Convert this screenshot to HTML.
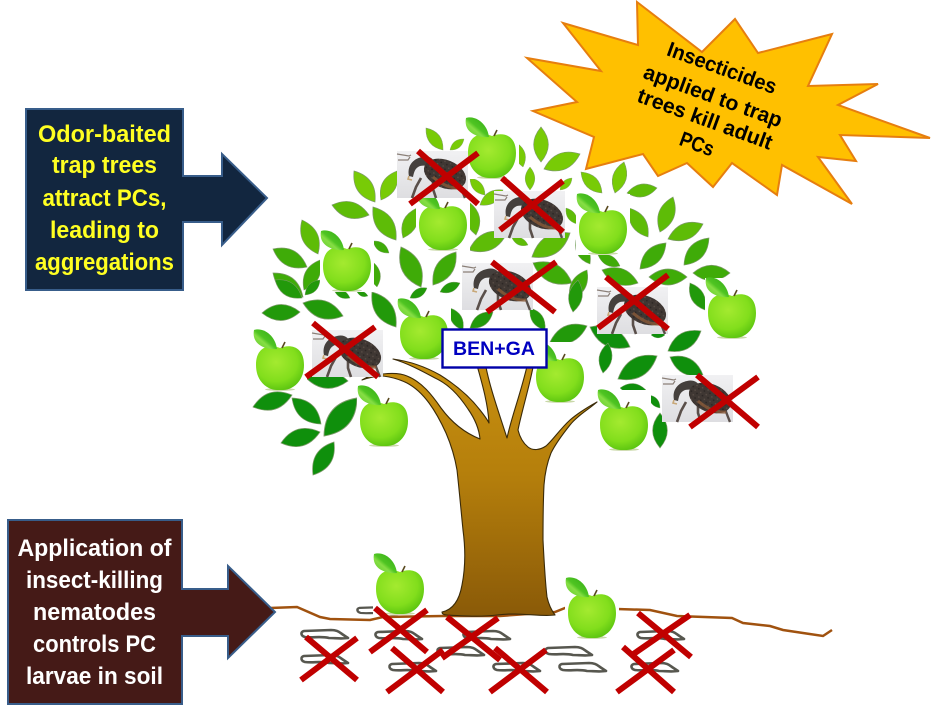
<!DOCTYPE html>
<html>
<head>
<meta charset="utf-8">
<style>
html,body{margin:0;padding:0;background:#fff;width:932px;height:708px;overflow:hidden}
svg{display:block}
text{font-family:"Liberation Sans",Arial,sans-serif;font-weight:bold;text-anchor:middle}
</style>
</head>
<body>
<svg width="932" height="708" viewBox="0 0 932 708" xmlns="http://www.w3.org/2000/svg">
<defs>
<g id="l"><path transform="scale(.01)" d="M0 0Q50 -42 100 0Q50 42 0 0Z" stroke="#7d9a6a" stroke-width="1.800"/></g>
<radialGradient id="ag" cx=".42" cy=".36" r=".74">
<stop offset="0" stop-color="#a4ea30"/><stop offset=".6" stop-color="#82de1c"/><stop offset="1" stop-color="#4fbc0c"/>
</radialGradient>
<linearGradient id="al" x1="1" y1="0" x2="0" y2="1">
<stop offset="0" stop-color="#2fa815"/><stop offset=".5" stop-color="#4fc422"/><stop offset=".62" stop-color="#86de44"/><stop offset="1" stop-color="#5cc92a"/>
</linearGradient>
<linearGradient id="tg" x1="0" y1="0" x2="0" y2="1">
<stop offset="0" stop-color="#c8900f"/><stop offset=".45" stop-color="#b57f0c"/><stop offset="1" stop-color="#8a5a08"/>
</linearGradient>
<linearGradient id="wg" x1="0" y1="0" x2="0" y2="1">
<stop offset="0" stop-color="#f1f1f3"/><stop offset="1" stop-color="#dedee1"/>
</linearGradient>
<pattern id="sp" width="6" height="5" patternUnits="userSpaceOnUse">
<rect width="6" height="5" fill="#3f3733"/>
<circle cx="1.300" cy="1.300" r=".8" fill="#5a4e47"/>
<circle cx="4.200" cy="3.600" r=".9" fill="#2c2624"/>
</pattern>
<g id="a">
<rect x="-27" y="-38" width="54" height="61" fill="#fff"/>
<ellipse cx="0" cy="21.500" rx="15" ry="1.400" fill="#c9d8a8"/>
<path d="M0 -20C10 -24 24 -22 24 -3C24 14 12 22 3 22C1 22 -1 22 -3 22C-12 22 -24 14 -24 -3C-24 -22 -10 -24 0 -20Z" fill="url(#ag)"/>
<path d="M-26 -38C-18 -41 -5 -34 -3 -19C-12 -18 -29 -22 -26 -38Z" fill="url(#al)"/>
<path d="M2 -20L5 -26" stroke="#5a4a20" stroke-width="1.600" fill="none"/>
</g>
<g id="w">
<rect width="71" height="47" fill="url(#wg)"/>
<path d="M0 3L12 5L14 4M1 9L11 9L13 6" stroke="#8b8078" stroke-width="1.200" fill="none"/>
<path d="M24 27L19 36L15 47" stroke="#5a4f4a" stroke-width="2.600" fill="none"/>
<path d="M36 27L36 38L39 47" stroke="#5a4f4a" stroke-width="2.600" fill="none"/>
<path d="M63 34L66 42L68 47" stroke="#5a4f4a" stroke-width="2.400" fill="none"/>
<path d="M12 25C10 16 15 8 25 6C32 4 38 8 38 14C33 15 27 14 23 15C18 17 17 21 16 26Z" fill="#45403d"/>
<ellipse cx="48" cy="23" rx="22" ry="14" transform="rotate(22 48 23)" fill="url(#sp)"/>
<path d="M36 26C44 33 54 38 64 37" stroke="#8a5a38" stroke-width="3" fill="none" opacity=".8"/>
<path d="M12 25L11 28L15 29" stroke="#c8a878" stroke-width="1.600" fill="none"/>
</g>
<path id="n" d="M3 1L30 0C36 0 38 2 41 4L47 8C40 9 34 8 28 8C20 6 12 8 4 7C0 6 -1 2 3 1Z" fill="#fff" stroke="#57574f" stroke-width="2.600" stroke-linejoin="round"/>
</defs>

<rect width="932" height="708" fill="#fff"/>

<!-- leaves -->
<g fill="#78cb06">
<use href="#l" transform="matrix(17 22 -22 17 426 128)"/>
<use href="#l" transform="matrix(14 -11 11 14 450 150)"/>
<use href="#l" transform="matrix(21 31 -31 21 354 171)"/>
<use href="#l" transform="matrix(16 -29 29 16 381 200)"/>
<use href="#l" transform="matrix(0 35 -35 0 541 127)"/>
<use href="#l" transform="matrix(36 -15 15 36 544 169)"/>
<use href="#l" transform="matrix(6 24 -24 6 517 143)"/>
<use href="#l" transform="matrix(0 23 -23 0 530 167)"/>
<use href="#l" transform="matrix(12 -12 12 12 560 190)"/>
<use href="#l" transform="matrix(21 21 -21 21 581 172)"/>
<use href="#l" transform="matrix(-9 31 -31 -9 624 162)"/>
<use href="#l" transform="matrix(15 17 -17 15 470 178)"/>
<use href="#l" transform="matrix(23 -15 15 23 480 205)"/>
</g>
<g fill="#5ebc07">
<use href="#l" transform="matrix(37 10 -10 37 332 205)"/>
<use href="#l" transform="matrix(23 33 -33 23 373 207)"/>
<use href="#l" transform="matrix(14 -30 30 14 403 238)"/>
<use href="#l" transform="matrix(16 34 -34 16 302 220)"/>
<use href="#l" transform="matrix(7 33 -33 7 469 202)"/>
<use href="#l" transform="matrix(30 -5 5 30 627 193)"/>
<use href="#l" transform="matrix(-13 35 -35 -13 673 197)"/>
<use href="#l" transform="matrix(19 29 -29 19 629 208)"/>
<use href="#l" transform="matrix(11 16 -16 11 566 208)"/>
<use href="#l" transform="matrix(-35 15 -15 -35 703 224)"/>
<use href="#l" transform="matrix(38 -17 17 38 469 250)"/>
<use href="#l" transform="matrix(-38 24 -24 -38 570 233)"/>
<use href="#l" transform="matrix(16 7 -7 16 512 238)"/>
</g>
<g fill="#3fab08">
<use href="#l" transform="matrix(34 18 -18 34 273 249)"/>
<use href="#l" transform="matrix(16 -30 30 16 304 290)"/>
<use href="#l" transform="matrix(30 24 -24 30 273 273)"/>
<use href="#l" transform="matrix(20 40 -40 20 401 247)"/>
<use href="#l" transform="matrix(23 -33 33 23 433 285)"/>
<use href="#l" transform="matrix(16 12 -12 16 373 241)"/>
<use href="#l" transform="matrix(4 25 -25 4 373 262)"/>
<use href="#l" transform="matrix(-26 26 -26 -26 666 243)"/>
<use href="#l" transform="matrix(-25 27 -27 -25 709 238)"/>
<use href="#l" transform="matrix(37 0 0 37 693 273)"/>
<use href="#l" transform="matrix(38 0 0 38 649 277)"/>
<use href="#l" transform="matrix(36 13 -13 36 602 270)"/>
<use href="#l" transform="matrix(14 24 -24 14 576 240)"/>
<use href="#l" transform="matrix(22 11 -11 22 598 255)"/>
<use href="#l" transform="matrix(39 20 -20 39 533 263)"/>
<use href="#l" transform="matrix(-17 30 -30 -17 587 270)"/>
</g>
<g fill="#22990a">
<use href="#l" transform="matrix(27 18 -18 27 275 280)"/>
<use href="#l" transform="matrix(15 -15 15 15 305 295)"/>
<use href="#l" transform="matrix(38 -1 1 38 262 313)"/>
<use href="#l" transform="matrix(40 13 -13 40 303 303)"/>
<use href="#l" transform="matrix(24 35 -35 24 372 292)"/>
<use href="#l" transform="matrix(16 8 -8 16 334 290)"/>
<use href="#l" transform="matrix(11 4 -4 11 357 292)"/>
<use href="#l" transform="matrix(-17 10 -10 -17 427 288)"/>
<use href="#l" transform="matrix(-20 9 -9 -20 460 283)"/>
<use href="#l" transform="matrix(13 22 -22 13 450 308)"/>
<use href="#l" transform="matrix(23 -16 16 23 470 328)"/>
<use href="#l" transform="matrix(-5 32 -32 -5 578 280)"/>
<use href="#l" transform="matrix(15 22 -22 15 530 308)"/>
<use href="#l" transform="matrix(37 -16 16 37 550 342)"/>
<use href="#l" transform="matrix(15 27 -27 15 690 283)"/>
</g>
<g fill="#0f8f0c">
<use href="#l" transform="matrix(42 3 -3 42 306 378)"/>
<use href="#l" transform="matrix(39 -12 12 39 253 407)"/>
<use href="#l" transform="matrix(29 26 -26 29 292 398)"/>
<use href="#l" transform="matrix(33 -38 38 33 324 436)"/>
<use href="#l" transform="matrix(39 -11 11 39 281 443)"/>
<use href="#l" transform="matrix(21 -33 33 21 313 475)"/>
<use href="#l" transform="matrix(40 20 -20 40 590 327)"/>
<use href="#l" transform="matrix(-5 30 -30 -5 608 343)"/>
<use href="#l" transform="matrix(-39 23 -23 -39 657 356)"/>
<use href="#l" transform="matrix(-33 20 -20 -33 701 331)"/>
<use href="#l" transform="matrix(33 18 -18 33 670 357)"/>
<use href="#l" transform="matrix(14 0 0 14 651 335)"/>
<use href="#l" transform="matrix(26 2 -2 26 620 388)"/>
<use href="#l" transform="matrix(11 13 -13 11 649 395)"/>
<use href="#l" transform="matrix(0 -35 35 0 660 448)"/>
<use href="#l" transform="matrix(9 17 -17 9 547 345)"/>
</g>

<!-- larvae -->
<use href="#n" transform="translate(357 607) scale(.92 .85)"/>
<use href="#n" transform="translate(301 630)"/>
<use href="#n" transform="translate(301 655)"/>
<use href="#n" transform="translate(375 631)"/>
<use href="#n" transform="translate(389 663)"/>
<use href="#n" transform="translate(437 647)"/>
<use href="#n" transform="translate(463 631)"/>
<use href="#n" transform="translate(493 663)"/>
<use href="#n" transform="translate(545 647)"/>
<use href="#n" transform="translate(559 663)"/>
<use href="#n" transform="translate(637 631)"/>
<use href="#n" transform="translate(631 663)"/>

<!-- soil -->
<polyline points="270,608 297,607 320,617 330,619 370,620 383,617 443,616 500,616 555,612 565,608 617,609 650,610 677,616 732,618 743,623 770,626 783,630 823,636 832,630" fill="none" stroke="#a0520f" stroke-width="2.500"/>

<!-- apples -->
<use href="#a" x="492" y="156"/>
<use href="#a" x="443" y="228"/>
<use href="#a" x="603" y="232"/>
<use href="#a" x="347" y="269"/>
<use href="#a" x="424" y="337"/>
<use href="#a" x="732" y="316"/>
<use href="#a" x="280" y="368"/>
<use href="#a" x="384" y="424"/>
<use href="#a" x="560" y="380"/>
<use href="#a" x="624" y="428"/>
<use href="#a" x="400" y="592"/>
<use href="#a" x="592" y="616"/>

<!-- trunk -->
<path d="M442 612C452 610 459 602 462 585C466 565 465 545 463 530C461 510 459 488 457 470C455 458 452 447 446 433C436 411 424 392 407 383C399 379 391 377 383 376C376 376 368 378 362 380C369 376 376 373 383 374C392 373 400 373 407 376C422 382 432 395 441 408C452 423 465 433 480 439C479 428 475 419 468 409C458 394 448 384 435 378C422 371 407 363 393 359C408 361 424 366 440 375C456 385 470 397 480 410C484 415 487 419 489 423C488 405 483 386 476 362L485 362C489 385 498 410 507 438C512 415 521 393 528 362L534 362C530 385 522 410 518 430C520 438 523 443 528 447C533 451 540 450 546 446C553 440 560 429 570 420C578 413 588 407 597 402C588 410 578 415 570 425C562 435 555 445 551 453C547 463 545 472 544 485C543 505 543 525 543 540C544 560 545 580 547 597C549 606 552 611 555 615C540 617 520 612 497 615C480 617 465 616 447 615C444 615 442 614 442 612Z" fill="url(#tg)" stroke="#3a2a08" stroke-width="1.100" stroke-linejoin="round"/>

<!-- weevils -->
<use href="#w" x="397" y="151"/>
<use href="#w" x="494" y="191"/>
<use href="#w" x="462" y="263"/>
<use href="#w" x="597" y="287"/>
<use href="#w" x="312" y="330"/>
<use href="#w" x="662" y="375"/>

<!-- red Xs -->
<g stroke="#c00000" stroke-width="6" fill="none">
<path d="M418 151L478 204M410 204L478 153"/>
<path d="M502 178L563 232M563 181L500 230"/>
<path d="M492 262L555 312M556 262L487 312"/>
<path d="M606 277L668 329M668 275L598 328"/>
<path d="M313 323L378 377M375 327L306 377"/>
<path d="M697 375L758 427M758 377L690 427"/>
<path d="M375 608L427 652M427 610L370 652"/>
<path d="M306 637L357 680M357 638L301 680"/>
<path d="M447 617L500 660M498 618L442 658"/>
<path d="M392 648L443 692M443 650L387 692"/>
<path d="M495 648L547 692M546 650L490 692"/>
<path d="M638 613L691 657M690 615L632 655"/>
<path d="M623 647L674 692M674 650L617 692"/>
</g>

<!-- BEN+GA -->
<rect x="442.500" y="329.500" width="104" height="38" fill="#fff" stroke="#0000a8" stroke-width="2.400"/>
<text x="494" y="355" font-size="19" fill="#0000c0" textLength="82" lengthAdjust="spacingAndGlyphs">BEN+GA</text>

<!-- starburst -->
<polygon points="637,2 702,52 735,19 758,53 832,34 808,86 878,84 838,105 930,138 840,135 856,161 818,157 852,204 782,165 777,195 732,163 713,187 687,163 658,176 643,154 586,169 594,137 533,111 577,102 527,58 601,71 563,23 638,45" fill="#ffc000" stroke="#e67e0f" stroke-width="2"/>
<g font-size="21" fill="#000">
<text transform="translate(722 68) rotate(20)" y="7" textLength="115" lengthAdjust="spacingAndGlyphs">Insecticides</text>
<text transform="translate(713 96) rotate(20)" y="7" textLength="146" lengthAdjust="spacingAndGlyphs">applied to trap</text>
<text transform="translate(705 119) rotate(20)" y="7" textLength="142" lengthAdjust="spacingAndGlyphs">trees kill adult</text>
<text transform="translate(697 144) rotate(20)" y="7" textLength="35" lengthAdjust="spacingAndGlyphs">PCs</text>
</g>

<!-- callout 1 -->
<polygon points="26,109 183,109 183,176 222,176 222,154 267,198 222,245 222,222 183,222 183,290 26,290" fill="#12263f" stroke="#385d8a" stroke-width="2"/>
<g font-size="24" fill="#ffff22">
<text x="104.500" y="142" textLength="133" lengthAdjust="spacingAndGlyphs">Odor-baited</text>
<text x="104.500" y="173" textLength="105" lengthAdjust="spacingAndGlyphs">trap trees</text>
<text x="104.500" y="206" textLength="124" lengthAdjust="spacingAndGlyphs">attract PCs,</text>
<text x="104.500" y="238" textLength="109" lengthAdjust="spacingAndGlyphs">leading to</text>
<text x="104.500" y="270" textLength="139" lengthAdjust="spacingAndGlyphs">aggregations</text>
</g>

<!-- callout 2 -->
<polygon points="8,520 182,520 182,589 228,589 228,566 275,612 228,658 228,636 182,636 182,704 8,704" fill="#451a17" stroke="#385d8a" stroke-width="2"/>
<g font-size="24" fill="#fff">
<text x="94.500" y="556" textLength="154" lengthAdjust="spacingAndGlyphs">Application of</text>
<text x="94.500" y="588" textLength="137" lengthAdjust="spacingAndGlyphs">insect-killing</text>
<text x="94.500" y="620" textLength="123" lengthAdjust="spacingAndGlyphs">nematodes</text>
<text x="94.500" y="652" textLength="123" lengthAdjust="spacingAndGlyphs">controls PC</text>
<text x="94.500" y="684" textLength="137" lengthAdjust="spacingAndGlyphs">larvae in soil</text>
</g>
</svg>
</body>
</html>
